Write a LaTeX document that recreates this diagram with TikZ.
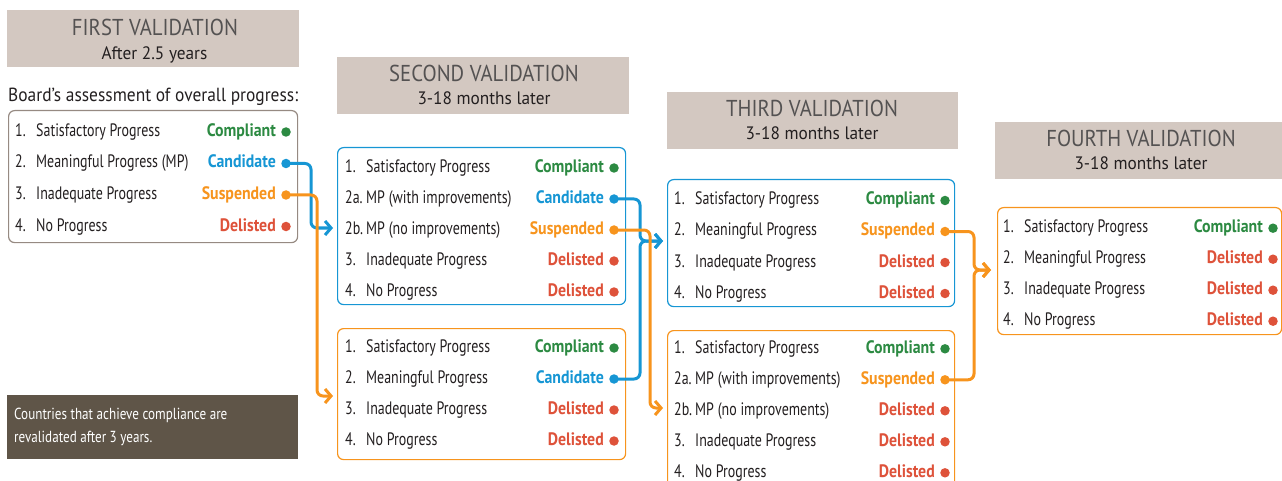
\documentclass[tikz,border=0pt]{standalone}
\usepackage{fontspec}
\setmainfont{PT Sans}
\newfontfamily\condf{PT Sans}[FakeStretch=0.775]
\newfontfamily\condbf{PT Sans Bold}[FakeStretch=0.88]
\newfontfamily\notef{PT Sans}[FakeStretch=0.82]
\newfontfamily\titlef{PT Sans}[FakeStretch=0.90]
\newfontfamily\subf{PT Sans}[FakeStretch=0.96]
\newfontfamily\boardf{PT Sans}[FakeStretch=0.917]
\usetikzlibrary{arrows.meta}
\definecolor{hdrgray}{RGB}{211,200,193}
\definecolor{titlegray}{RGB}{84,82,82}
\definecolor{notebrown}{RGB}{95,85,72}
\definecolor{boxgray}{RGB}{150,138,130}
\definecolor{cgreen}{RGB}{44,138,66}
\definecolor{cblue}{RGB}{22,150,212}
\definecolor{corange}{RGB}{247,148,29}
\definecolor{cred}{RGB}{222,82,58}
\definecolor{ink}{RGB}{35,31,32}
\tikzset{
  hdrbox/.style={fill=hdrgray, draw=none, anchor=north west, minimum width=#1, minimum height=57, inner sep=0},
  hdrtitle/.style={anchor=base, inner sep=0, text=titlegray, font=\titlef\fontsize{23}{26}\selectfont},
  hdrsub/.style={anchor=base, inner sep=0, text=ink, font=\subf\fontsize{18}{20}\selectfont},
  listbox/.style={rounded corners=6, line width=1.2, anchor=north west, inner sep=0, fill=white},
  numtxt/.style={anchor=base west, inner sep=0, text=ink, font=\condf\fontsize{18}{20}\selectfont},
  lbl/.style={anchor=base east, inner sep=0, font=\condbf\fontsize{18}{20}\selectfont},
  dotn/.style={circle, inner sep=0, minimum size=9.5, draw=none},
  notetxt/.style={anchor=base west, inner sep=0, text=white, font=\notef\fontsize{16}{20}\selectfont},
  conn/.style={line width=3, rounded corners=6, -{Straight Barb[length=6pt,width=14pt]}},
}
\newcommand\prow[8]{%
  \node[numtxt] (#1n) at (#2,#4) {#5};
  \node[numtxt] (#1t) at (#2+21,#4) {#6};
  \node[lbl,text=#7] (#1l) at (#3-10,#4) {#8};
  \node[dotn,fill=#7] (#1) at (#3,#4-4.5) {};
}
\begin{document}
\begin{tikzpicture}[x=1pt,y=-1pt]
\useasboundingbox (0,0) rectangle (1282,481);
\clip (0,0) rectangle (1282,481);

% headers
\node[hdrbox=292] (h1) at (7,10) {};
\node[hdrtitle] (h1t) at (155,35.5) {FIRST VALIDATION};
\node[hdrsub] (h1s) at (154.5,59.5) {After 2.5 years};

\node[hdrbox=292] (h2) at (337,57) {};
\node[hdrtitle] (h2t) at (484,82) {SECOND VALIDATION};
\node[hdrsub] (h2s) at (484,105) {3-18 months later};

\node[hdrbox=291] (h3) at (667,92) {};
\node[hdrtitle] (h3t) at (812,117) {THIRD VALIDATION};
\node[hdrsub] (h3s) at (812,140) {3-18 months later};

\node[hdrbox=287] (h4) at (995,122) {};
\node[hdrtitle] (h4t) at (1141,147) {FOURTH VALIDATION};
\node[hdrsub] (h4s) at (1141,170) {3-18 months later};

\node[anchor=base west, inner sep=0, text=ink, font=\boardf\fontsize{19}{22}\selectfont] (board) at (8,101.5) {Board’s assessment of overall progress:};

% note
\node[fill=notebrown, anchor=north west, minimum width=291, minimum height=64, inner sep=0] (note) at (7,395) {};
\node[notetxt] (note1) at (14,419) {Countries that achieve compliance are};
\node[notetxt] (note2) at (14,442.5) {revalidated after 3 years.};

% boxes
\node[listbox, draw=boxgray, minimum width=289, minimum height=132] (b1) at (8,110) {};
\node[listbox, draw=cblue, minimum width=288, minimum height=157] (b2) at (337,147) {};
\node[listbox, draw=corange, minimum width=288, minimum height=131] (b3) at (337,328) {};
\node[listbox, draw=cblue, minimum width=287, minimum height=127] (b4) at (667,179) {};
\node[listbox, draw=corange, minimum width=287, minimum height=158] (b5) at (667,330) {};
\node[listbox, draw=corange, minimum width=284, minimum height=127] (b6) at (997,207) {};

% box 1 rows
\prow{ra}{15}{286}{136.5}{1.}{Satisfactory Progress}{cgreen}{Compliant}
\prow{rb}{15}{286}{168}{2.}{Meaningful Progress (MP)}{cblue}{Candidate}
\prow{rc}{15}{286}{199.5}{3.}{Inadequate Progress}{corange}{Suspended}
\prow{rd}{15}{286}{231}{4.}{No Progress}{cred}{Delisted}

% box 2 rows
\prow{sa}{345}{614}{172.5}{1.}{Satisfactory Progress}{cgreen}{Compliant}
\prow{sb}{345}{614}{203.5}{2a.}{MP (with improvements)}{cblue}{Candidate}
\prow{sc}{345}{614}{234.5}{2b.}{MP (no improvements)}{corange}{Suspended}
\prow{sd}{345}{614}{265.5}{3.}{Inadequate Progress}{cred}{Delisted}
\prow{se}{345}{614}{296.5}{4.}{No Progress}{cred}{Delisted}

% box 3 rows
\prow{ta}{345}{614}{352.5}{1.}{Satisfactory Progress}{cgreen}{Compliant}
\prow{tb}{345}{614}{383.5}{2.}{Meaningful Progress}{cblue}{Candidate}
\prow{tc}{345}{614}{414.5}{3.}{Inadequate Progress}{cred}{Delisted}
\prow{td}{345}{614}{445.5}{4.}{No Progress}{cred}{Delisted}

% box 4 rows
\prow{ua}{674}{945}{205}{1.}{Satisfactory Progress}{cgreen}{Compliant}
\prow{ub}{674}{945}{236}{2.}{Meaningful Progress}{corange}{Suspended}
\prow{uc}{674}{945}{267}{3.}{Inadequate Progress}{cred}{Delisted}
\prow{ud}{674}{945}{298}{4.}{No Progress}{cred}{Delisted}

% box 5 rows
\prow{va}{674}{945}{353.3}{1.}{Satisfactory Progress}{cgreen}{Compliant}
\prow{vb}{674}{945}{384.3}{2a.}{MP (with improvements)}{corange}{Suspended}
\prow{vc}{674}{945}{415.3}{2b.}{MP (no improvements)}{cred}{Delisted}
\prow{vd}{674}{945}{446.3}{3.}{Inadequate Progress}{cred}{Delisted}
\prow{ve}{674}{945}{477.3}{4.}{No Progress}{cred}{Delisted}

% box 6 rows
\prow{wa}{1003}{1273}{232.7}{1.}{Satisfactory Progress}{cgreen}{Compliant}
\prow{wb}{1003}{1273}{263.7}{2.}{Meaningful Progress}{cred}{Delisted}
\prow{wc}{1003}{1273}{294.7}{3.}{Inadequate Progress}{cred}{Delisted}
\prow{wd}{1003}{1273}{325.7}{4.}{No Progress}{cred}{Delisted}

% arrow targets
\coordinate (a2) at (333,228);
\coordinate (a3) at (333,396);
\coordinate (a4) at (663,241);
\coordinate (a5) at (663,408);
\coordinate (a6) at (991,270);

% connectors
\draw[conn, cblue] (rb.center) -| (311,228) -- (a2);
\draw[conn, corange] (rc.center) -| (317,396) -- (a3);
\draw[conn, cblue] (sb.center) -| (640,241) -- (a4);
\draw[conn, cblue] (tb.center) -| (640,241) -- (a4);
\draw[conn, corange] (sc.center) -| (650,408) -- (a5);
\draw[conn, corange] (ub.center) -| (974,270) -- (a6);
\draw[conn, corange] (vb.center) -| (974,270) -- (a6);
\end{tikzpicture}
\end{document}
